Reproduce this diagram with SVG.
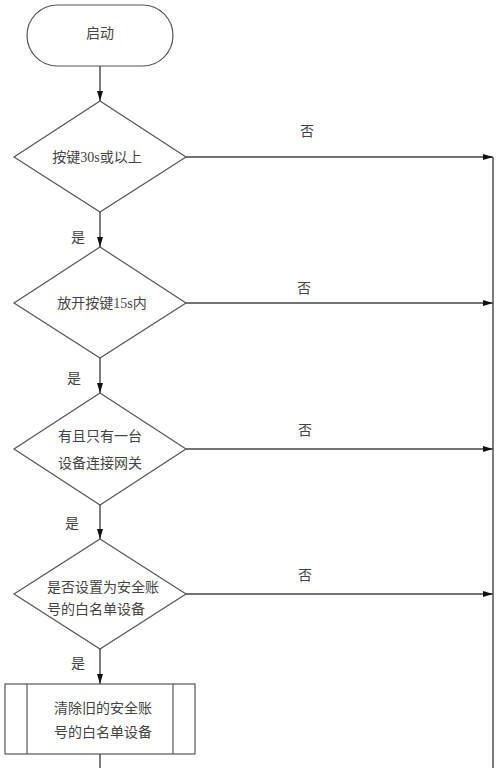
<svg xmlns="http://www.w3.org/2000/svg" width="500" height="768" viewBox="0 0 500 768">
<style>
.s{fill:#fff;stroke:#555;stroke-width:1.2}
.c{fill:none;stroke:#444;stroke-width:1.4}
.t{font-family:"Liberation Serif","Noto Sans CJK SC",serif;font-size:14px;fill:#444}
.m{text-anchor:middle}
</style>
<defs>
<marker id="a" viewBox="0 0 10 6" refX="10" refY="3" markerWidth="10" markerHeight="6" markerUnits="userSpaceOnUse" orient="auto">
<path d="M0,0L10,3L0,6z" fill="#111"/>
</marker>
</defs>
<rect width="500" height="768" fill="#fff"/>
<g id="connectors">
<line class="c" x1="100" y1="66" x2="100" y2="101" marker-end="url(#a)"/>
<line class="c" x1="100" y1="212" x2="100" y2="247" marker-end="url(#a)"/>
<line class="c" x1="100" y1="358" x2="100" y2="393" marker-end="url(#a)"/>
<line class="c" x1="100" y1="505" x2="100" y2="539" marker-end="url(#a)"/>
<line class="c" x1="100" y1="649" x2="100" y2="684" marker-end="url(#a)"/>
<line class="c" x1="100" y1="754" x2="100" y2="768"/>
<line class="c" x1="186" y1="157" x2="493" y2="157" marker-end="url(#a)"/>
<line class="c" x1="186" y1="303" x2="493" y2="303" marker-end="url(#a)"/>
<line class="c" x1="186" y1="449" x2="493" y2="449" marker-end="url(#a)"/>
<line class="c" x1="186" y1="594" x2="493" y2="594" marker-end="url(#a)"/>
<line class="c" x1="493" y1="157" x2="493" y2="768"/>
<text class="t m" x="307" y="136">否</text>
<text class="t m" x="304" y="293">否</text>
<text class="t m" x="305" y="435">否</text>
<text class="t m" x="305" y="580">否</text>
<text class="t m" x="78" y="242">是</text>
<text class="t m" x="74" y="383">是</text>
<text class="t m" x="72" y="528">是</text>
<text class="t m" x="78" y="668">是</text>
</g>
<g id="start">
<rect class="s" x="27" y="5" width="146" height="61" rx="30.5"/>
<text class="t m" x="100" y="38">启动</text>
</g>
<g id="d1">
<path class="s" d="M100,101L186,157L100,212L14,157z"/>
<text class="t m" x="97" y="162">按键30s或以上</text>
</g>
<g id="d2">
<path class="s" d="M100,247L186,303L100,358L14,303z"/>
<text class="t m" x="102" y="308">放开按键15s内</text>
</g>
<g id="d3">
<path class="s" d="M100,393L186,449L100,505L14,449z"/>
<text class="t m" x="100" y="441">有且只有一台</text>
<text class="t m" x="100" y="468">设备连接网关</text>
</g>
<g id="d4">
<path class="s" d="M100,539L186,594L100,649L14,594z"/>
<text class="t" x="47" y="592">是否设置为安全账</text>
<text class="t" x="47" y="614">号的白名单设备</text>
</g>
<g id="p1">
<rect class="s" x="5" y="684" width="190" height="70"/>
<line class="s" x1="27" y1="684" x2="27" y2="754"/>
<line class="s" x1="173" y1="684" x2="173" y2="754"/>
<text class="t" x="54" y="713">清除旧的安全账</text>
<text class="t" x="54" y="737">号的白名单设备</text>
</g>
</svg>
